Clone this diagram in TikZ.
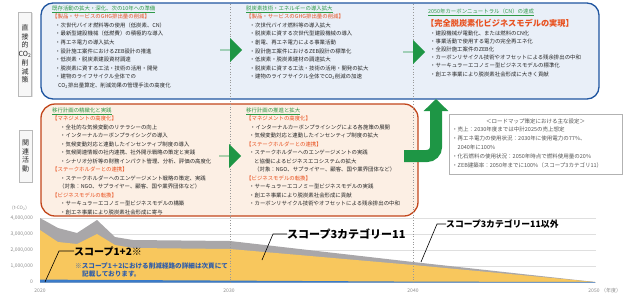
\documentclass[tikz,border=0pt]{standalone}
\usepackage{fontspec}
\setmainfont{Noto Sans CJK JP}
\usetikzlibrary{arrows.meta,shapes.arrows,shadows}

\definecolor{boxblue}{HTML}{1F55A0}
\definecolor{boxbluefill}{HTML}{E9EFF8}
\definecolor{boxred}{HTML}{C2461B}
\definecolor{boxredfill}{HTML}{FCEFE4}
\definecolor{arrowgreen}{HTML}{1E9645}
\definecolor{ttlgreen}{HTML}{2E9A48}
\definecolor{hdrred}{HTML}{E8501E}
\definecolor{txt}{HTML}{262626}
\definecolor{notegray}{HTML}{555555}
\definecolor{tickgray}{HTML}{8A8A8A}
\definecolor{areagray}{HTML}{A9A7A9}
\definecolor{areayellow}{HTML}{F8C75D}
\definecolor{s12blue}{HTML}{3B7BC8}
\definecolor{notblue}{HTML}{2F5DAA}

\newcommand\fs[2]{\fontsize{#1}{#2}\selectfont}
\newcommand\ttl[1]{\textcolor{ttlgreen}{\underline{#1}}}
\newcommand\hdr[1]{\textcolor{hdrred}{#1}}
\newcommand\cotwo{CO\textsubscript{2}}

\begin{document}
\begin{tikzpicture}[x=1pt, y=-1pt,
  every node/.style={inner sep=0pt, text=txt},
  itemcol/.style={anchor=north west, align=left, font=\fs{5.4}{8.6}},
  lowcol/.style={anchor=north west, align=left, font=\fs{5.4}{8.5}},
  notecol/.style={anchor=north west, align=left, font=\fs{5.5}{9}, text=notegray},
  sidelabel/.style={draw=gray!55, fill=gray!6, align=center, font=\fs{7}{8.7},
    minimum width=13pt, drop shadow={shadow xshift=1.2pt, shadow yshift=-1.2pt, fill=gray!45}},
  bigarrow/.style={single arrow, fill=arrowgreen, minimum height=22pt, minimum width=24pt,
    single arrow head extend=6pt, single arrow head indent=0pt},
  gridln/.style={draw=gray!25, line width=0.5pt},
  tick/.style={anchor=east, font=\fs{5}{6}, text=tickgray},
  yearlbl/.style={font=\fs{5}{6}, text=tickgray},
  leader/.style={draw=black, line width=0.6pt},
  sclabel/.style={anchor=west, font=\bfseries\fs{10}{12}, text=black}]
\useasboundingbox (0,0) rectangle (624,295);

% chart
\foreach \gy in {218,234,250,266,282} \draw[gridln] (40,\gy) -- (596,\gy);
\fill[areagray] (40,282) -- (40,218) -- (58,228) -- (77,233) -- (97,220) -- (115,237)
  -- (133,240) -- (230,241) -- (413,262) -- (595,282) -- cycle;
\fill[areayellow] (40,282) -- (40,230) -- (58,242) -- (77,244) -- (97,234) -- (115,245)
  -- (133,248) -- (230,249) -- (413,265) -- (595,282) -- cycle;
\fill[s12blue] (40,279.6) -- (230,280.6) -- (413,281.6) -- (595,282) -- (595,282.6) -- (40,282.6) -- cycle;

\node[anchor=west, font=\fs{4.6}{6}, text=tickgray] (unit) at (12,208) {(t-\cotwo)};
\node[tick] (t4) at (33,218) {4,000,000};
\node[tick] (t3) at (33,234) {3,000,000};
\node[tick] (t2) at (33,250) {2,000,000};
\node[tick] (t1) at (33,266) {1,000,000};
\node[tick] (t0) at (33,282) {0};
\foreach \yr/\gx in {2020/40,2030/229,2040/413,2050/594}
  \node[yearlbl] (y\yr) at (\gx,291) {\yr};
\node[yearlbl, anchor=west] (nendo) at (601,291) {（年度）};

% dotted year separators
\draw[gray!80, dotted, line width=0.7pt] (230,4) -- (230,284);
\draw[gray!80, dotted, line width=0.7pt] (413,4) -- (413,284);

% labels on chart
\node[sclabel] (s12) at (74,251) {スコープ1+2※};
\coordinate (s12pt) at (45,282);
\draw[leader] (s12.west) -- ++(-15,0) -- (s12pt);
\node[anchor=north west, align=left, font=\bfseries\fs{6.6}{8.5}, text=notblue] (note) at (75,262.5)
  {※スコープ1＋2における削減経路の詳細は次頁にて\\\hspace*{7pt}記載しております。};
\node[sclabel, font=\bfseries\fs{11}{13}] (s3c) at (287,234) {スコープ3カテゴリー11};
\coordinate (s3cpt) at (262,260);
\draw[leader] (s3c.west) -- ++(-14,0) -- (s3cpt);
\node[sclabel, font=\bfseries\fs{8.8}{10}] (s3o) at (446,224) {スコープ3カテゴリー11以外};
\coordinate (s3opt) at (421,262);
\draw[leader] (s3o.west) -- ++(-9,0) -- (s3opt);

% side labels
\node[sidelabel, minimum height=84pt] (direct) at (25,54)
  {直\\接\\的\\\cotwo\\削\\減\\策};
\node[sidelabel, minimum height=52pt] (related) at (25.5,156)
  {関\\連\\活\\動};

% main boxes
\draw[boxblue, fill=boxbluefill, line width=1.3pt, rounded corners=12pt] (41,3) rectangle (599,99);
\draw[boxred, fill=boxredfill, line width=1.3pt, rounded corners=14pt] (41,104) rectangle (418,216);
\draw[gray!80, dotted, line width=0.7pt] (230,4) -- (230,216);
\draw[gray!80, dotted, line width=0.7pt] (413,4) -- (413,216);

% upper row
\node[itemcol] (u1) at (52,5.3) {\ttl{既存活動の拡大・深化、次の10年への準備}\\
  \hdr{【製品・サービスのGHG排出量の削減】}\\
  \hspace*{3pt}・次世代バイオ燃料等の使用（低炭素、CN）\\
  \hspace*{3pt}・最新型建設機械（低燃費）の積極的な導入\\
  \hspace*{3pt}・再エネ電力の導入拡大\\
  \hspace*{3pt}・設計施工案件におけるZEB設計の推進\\
  \hspace*{3pt}・低炭素・脱炭素建設資材調達\\
  \hspace*{3pt}・脱炭素に資する工法・技術の活用・開発\\
  \hspace*{3pt}・建物のライフサイクル全体での\\
  \hspace*{6pt}\cotwo 排出量算定、削減効果の管理手法の高度化};
\node[itemcol] (u2) at (246,5.3) {\ttl{脱炭素技術・エネルギーの導入拡大}\\
  \hdr{【製品・サービスのGHG排出量の削減】}\\
  \hspace*{3.5pt}・次世代バイオ燃料等の導入拡大\\
  \hspace*{3.5pt}・脱炭素に資する次世代型建設機械の導入\\
  \hspace*{3.5pt}・創電、再エネ電力による事業活動\\
  \hspace*{3.5pt}・設計施工案件におけるZEB設計の標準化\\
  \hspace*{3.5pt}・低炭素・脱炭素建材の調達拡大\\
  \hspace*{3.5pt}・脱炭素に資する工法・技術の活用・開発の拡大\\
  \hspace*{3.5pt}・建物のライフサイクル全体で\cotwo 削減の加速};
\node[itemcol] (u3t) at (428,8.3) {\ttl{2050年カーボンニュートラル（CN）の達成}};
\node[anchor=north west, font=\bfseries\fs{8.2}{10}, text=hdrred] (u3h) at (426,19.3)
  {【完全脱炭素化ビジネスモデルの実現】};
\node[itemcol, font=\fs{5.4}{8.2}] (u3) at (430,30.3) {・建設機械が電動化、または燃料のCN化\\
  ・事業活動で使用する電力の完全再エネ化\\
  ・全設計施工案件のZEB化\\
  ・カーボンリサイクル技術やオフセットによる残余排出の中和\\
  ・サーキュラーエコノミー型ビジネスモデルの標準化\\
  ・創エネ事業により脱炭素社会形成に大きく貢献};

% lower row
\node[lowcol] (l1) at (52,107.3) {\ttl{移行計画の精緻化と実践}\\
  \hdr{【マネジメントの高度化】}\\
  \hspace*{8pt}・全社的な気候変動のリテラシーの向上\\
  \hspace*{8pt}・インターナルカーボンプライシングの導入\\
  \hspace*{8pt}・気候変動対応と連動したインセンティブ制度の導入\\
  \hspace*{8pt}・気候関連情報の社内連携、社外開示戦略の策定と実践\\
  \hspace*{8pt}・シナリオ分析等の財務インパクト管理、分析、評価の高度化\\
  \hdr{【ステークホルダーとの連携】}\\
  \hspace*{8pt}・ステークホルダーへのエンゲージメント戦略の策定、実践\\
  \hspace*{7pt}（対象：NGO、サプライヤー、顧客、国や業界団体など）\\
  \hdr{【ビジネスモデルの転換】}\\
  \hspace*{8pt}・サーキュラーエコノミー型ビジネスモデルの構築\\
  \hspace*{8pt}・創エネ事業により脱炭素社会形成に寄与};
\node[lowcol] (l2) at (246,107.3) {\ttl{移行計画の推進と拡大}\\
  \hdr{【マネジメントの高度化】}\\
  \hspace*{4pt}・インターナルカーボンプライシングによる各施策の展開\\
  \hspace*{3pt}・気候変動対応と連動したインセンティブ制度の拡大\\
  \hdr{【ステークホルダーとの連携】}\\
  \hspace*{3pt}・ステークホルダーへのエンゲージメントの実践\\
  \hspace*{8pt}と協働によるビジネスエコシステムの拡大\\
  \hspace*{8pt}（対象：NGO、サプライヤー、顧客、国や業界団体など）\\
  \hdr{【ビジネスモデルの転換】}\\
  \hspace*{3pt}・サーキュラーエコノミー型ビジネスモデルの実践\\
  \hspace*{3pt}・創エネ事業により脱炭素社会形成に貢献\\
  \hspace*{3pt}・カーボンリサイクル技術やオフセットによる残余排出の中和};

% arrows
\node[bigarrow] (ar1) at (231,50) {};
\node[bigarrow] (ar2) at (414,52) {};
\node[bigarrow] (ar3) at (230,156) {};
\draw[arrowgreen, line width=12pt, rounded corners=9pt, -{Triangle[length=12pt,width=24pt]}]
  (404,156) -- (436,156) -- (436,99);

% settings box
\draw[gray!60, fill=white, line width=0.6pt] (449,114) rectangle (622,174);
\node[font=\fs{5.5}{9}, text=notegray] (sethdr) at (535.5,121) {＜ロードマップ策定における主な設定＞};
\node[notecol] (set) at (452,126.5) {・売上：2030年度までは中計2025の売上想定\\
  ・再エネ電力の使用状況：2030年に使用電力の77\%、\\
  \hspace*{5.5pt}2040年に100\%\\
  ・化石燃料の使用状況：2050年時点で燃料使用量の20\%\\
  ・ZEB建築率：2050年までに100\%（スコープ3カテゴリ11）};
\end{tikzpicture}
\end{document}
